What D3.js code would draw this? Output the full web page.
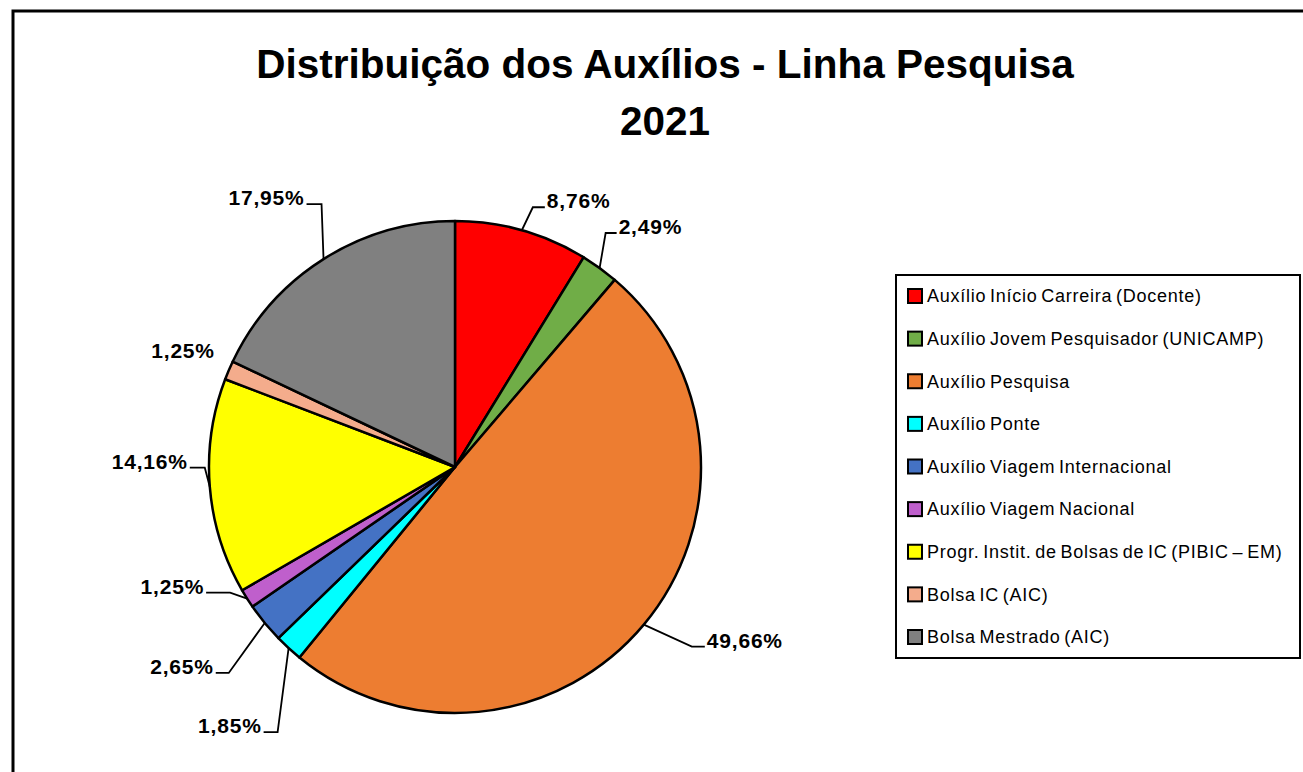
<!DOCTYPE html>
<html>
<head>
<meta charset="utf-8">
<script src="https://cdn.jsdelivr.net/npm/d3@7"></script>
<style>
  html, body { margin: 0; padding: 0; background: #fff; }
  svg { display: block; }
  text { font-family: "Liberation Sans", Arial, sans-serif; fill: #000; }
</style>
</head>
<body>
<script>
'use strict';

// data
const categories = [
  "Auxílio Início Carreira (Docente)",
  "Auxílio Jovem Pesquisador (UNICAMP)",
  "Auxílio Pesquisa",
  "Auxílio Ponte",
  "Auxílio Viagem Internacional",
  "Auxílio Viagem Nacional",
  "Progr. Instit. de Bolsas de IC (PIBIC – EM)",
  "Bolsa IC (AIC)",
  "Bolsa Mestrado (AIC)"
];
const shares = [8.76, 2.49, 49.66, 1.85, 2.65, 1.25, 14.16, 1.25, 17.95];
const colors = ["#ff0000", "#70ad47", "#ed7d31", "#00ffff", "#4472c4",
  "#bf5fcc", "#ffff00", "#f4ac8c", "#808080"];
const titleLines = ["Distribuição dos Auxílios - Linha Pesquisa", "2021"];

// label layout: elbow offset from slice edge + horizontal tail (Excel-like placement)
const labelLayout = [
  { dx: 11, dy: -23, tail: 12 },
  { dx: 6, dy: -35, tail: 11 },
  { dx: 48, dy: 22, tail: 13 },
  { dx: -11, dy: 84, tail: -14 },
  { dx: -36, dy: 50, tail: -13 },
  { dx: -17, dy: -6, tail: -24 },
  { dx: -5, dy: -19, tail: -15 },
  { dx: -14, dy: -13, tail: 0, noLine: true },
  { dx: -2, dy: -55, tail: -15 }
];

const W = 1303, H = 772;
const cx = 455, cy = 467, radius = 246;

const svg = d3.select('body')
  .append('svg')
  .attr('width', W)
  .attr('height', H);

// outer frame (runs off the right / bottom of the picture)
svg.append('rect')
  .attr('x', 13)
  .attr('y', 11)
  .attr('width', W + 20)
  .attr('height', H + 20)
  .attr('fill', '#fff')
  .attr('stroke', '#000')
  .attr('stroke-width', 3);

// title
svg.selectAll('text.title')
  .data(titleLines)
  .enter()
  .append('text')
  .attr('class', 'title')
  .attr('x', 665)
  .attr('y', (d, i) => 78 + i * 57)
  .attr('text-anchor', 'middle')
  .style('font-size', '40.5px')
  .style('font-weight', 'bold')
  .text(d => d);

// pie
const pie = d3.pie().sort(null).value(d => d);
const arcs = pie(shares);
const arc = d3.arc().innerRadius(0).outerRadius(radius);

const g = svg.append('g')
  .attr('transform', 'translate(' + cx + ',' + cy + ')');

g.selectAll('path.slice')
  .data(arcs)
  .enter()
  .append('path')
  .attr('class', 'slice')
  .attr('d', arc)
  .attr('fill', (d, i) => colors[i])
  .attr('stroke', '#000')
  .attr('stroke-width', 2.5)
  .attr('stroke-linejoin', 'round');

// labels with leader lines
const fmt = v => v.toFixed(2).replace('.', ',') + '%';

arcs.forEach((d, i) => {
  const a = (d.startAngle + d.endAngle) / 2;
  const ex = radius * Math.sin(a), ey = -radius * Math.cos(a);
  const L = labelLayout[i];
  const bx = ex + L.dx, by = ey + L.dy;
  const tx = bx + L.tail;
  const right = L.tail > 0;

  if (!L.noLine) {
    g.append('polyline')
      .attr('points', [[ex, ey], [bx, by], [tx, by]].map(p => p.join(',')).join(' '))
      .attr('fill', 'none')
      .attr('stroke', '#000')
      .attr('stroke-width', 1.8);
  }

  g.append('text')
    .attr('x', L.noLine ? bx : tx + (right ? 2 : -2))
    .attr('y', by + 1)
    .attr('text-anchor', right ? 'start' : 'end')
    .style('font-size', '21px')
    .style('font-weight', 'bold')
    .style('letter-spacing', '0.8px')
    .text(fmt(shares[i]));
});

// legend
const legend = svg.append('g')
  .attr('transform', 'translate(896,275)');

legend.append('rect')
  .attr('width', 404)
  .attr('height', 383)
  .attr('fill', '#fff')
  .attr('stroke', '#000')
  .attr('stroke-width', 2);

const rowY = d3.scalePoint()
  .domain(categories)
  .range([21, 362]);

const item = legend.selectAll('g.item')
  .data(categories)
  .enter()
  .append('g')
  .attr('class', 'item')
  .attr('transform', d => 'translate(0,' + rowY(d) + ')');

item.append('rect')
  .attr('x', 12)
  .attr('y', -7)
  .attr('width', 14)
  .attr('height', 14)
  .attr('fill', (d, i) => colors[i])
  .attr('stroke', '#000')
  .attr('stroke-width', 2);

item.append('text')
  .attr('x', 31)
  .attr('y', 0)
  .attr('dy', '0.35em')
  .style('font-size', '18px')
  .style('letter-spacing', '0.75px')
  .style('word-spacing', '-2px')
  .text(d => d);
</script>
</body>
</html>
